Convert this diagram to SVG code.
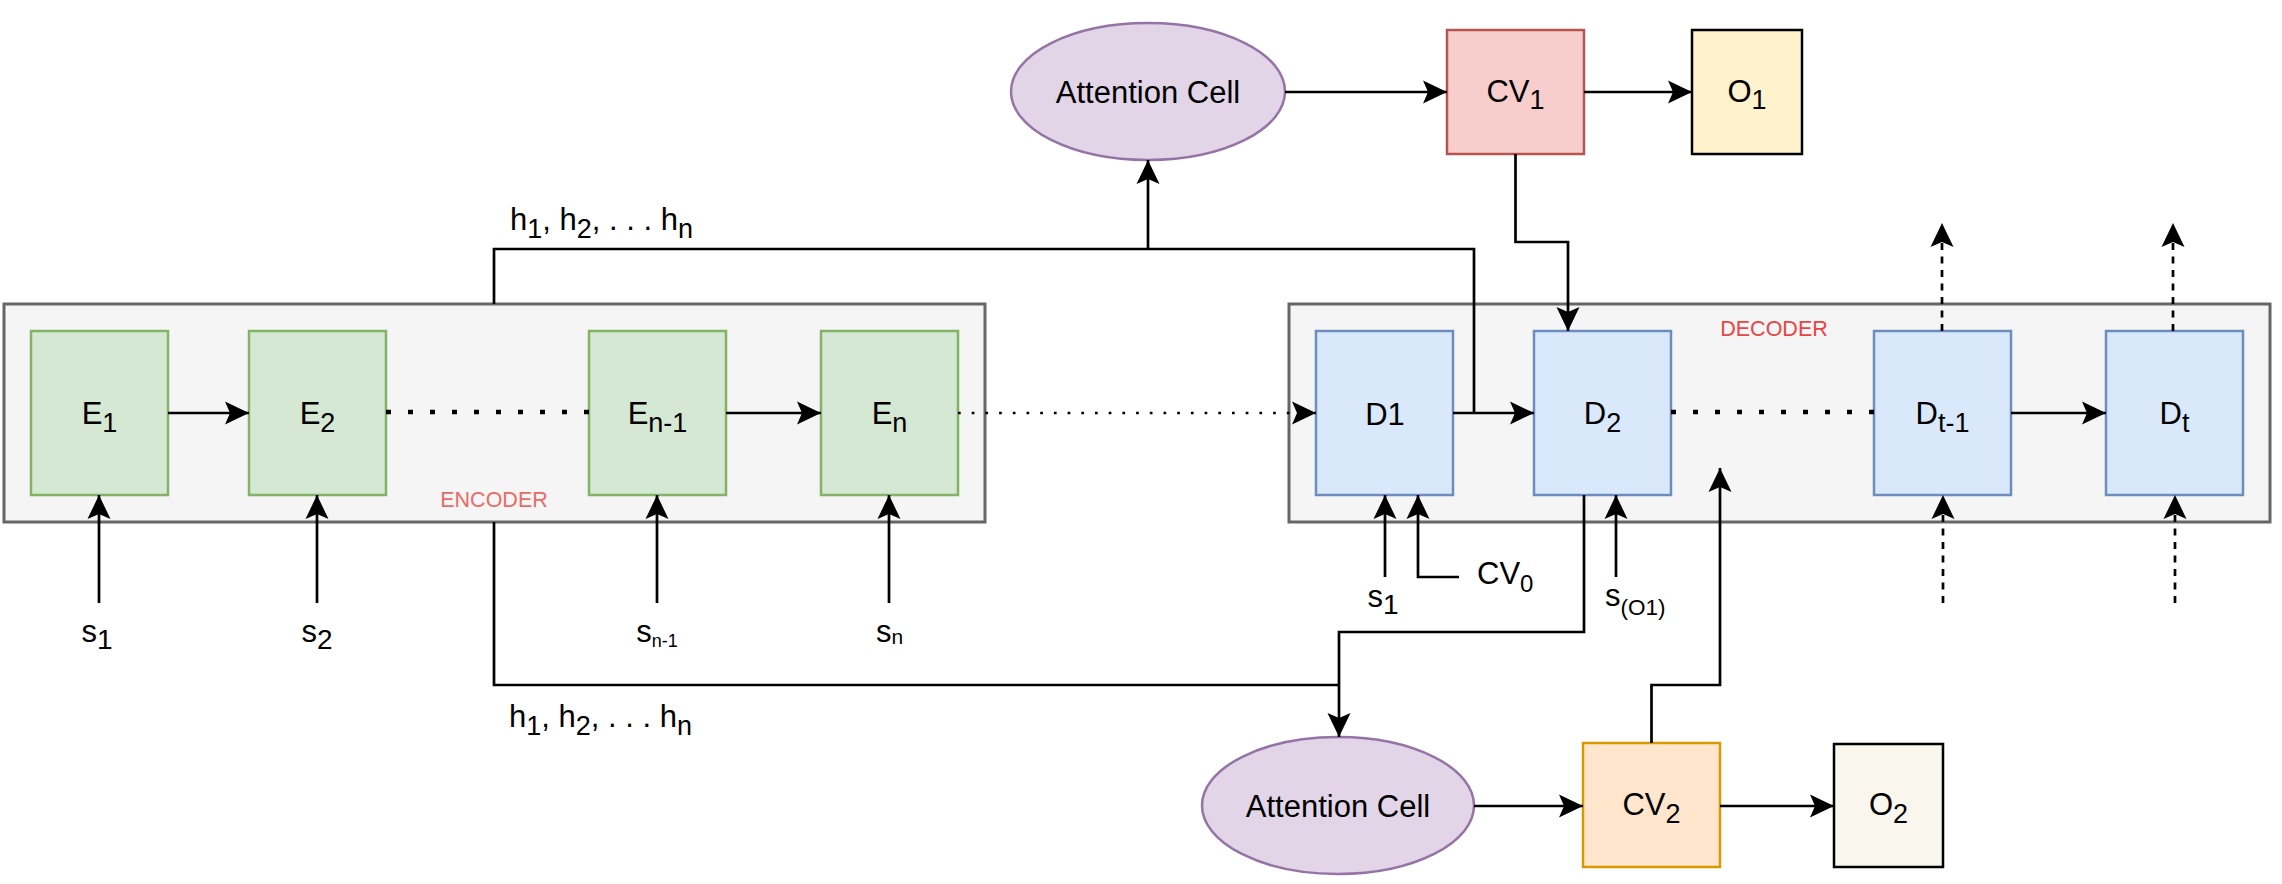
<svg xmlns="http://www.w3.org/2000/svg" width="2282" height="884" viewBox="0 0 2282 884">
<defs>
<marker id="ah" markerUnits="userSpaceOnUse" markerWidth="26" markerHeight="26" viewBox="0 -13 26 26" refX="24" refY="0" orient="auto"><path d="M24,0 L0,-11.5 L5,0 L0,11.5 Z" fill="#000"/></marker>
<style>
.cont{fill:#f5f5f5;stroke:#666666;stroke-width:3}
.enc{fill:#d5e8d4;stroke:#82b366;stroke-width:2.5}
.dec{fill:#dae8fc;stroke:#6c8ebf;stroke-width:2.5}
.att{fill:#e1d5e7;stroke:#9673a6;stroke-width:2.5}
.cv1{fill:#f8cecc;stroke:#b85450;stroke-width:2.5}
.o1{fill:#fff2cc;stroke:#000;stroke-width:2.5}
.cv2{fill:#ffe6cc;stroke:#d79b00;stroke-width:2.5}
.o2{fill:#f9f7ed;stroke:#000;stroke-width:2.5}
text{font-family:"Liberation Sans",Arial,Helvetica,sans-serif;font-size:31px;fill:#000}
.m{text-anchor:middle}
.c{fill:none;stroke:#000;stroke-width:2.7}
.arr{marker-end:url(#ah)}
.dotbig{stroke-width:4.5;stroke-dasharray:5 17}
.dotthin{stroke-dasharray:2.7 11}
.dash{stroke-dasharray:7 6.5}
</style>
</defs>
<rect width="2282" height="884" fill="#fff"/>

<g id="encoder">
<rect class="cont" x="4" y="304" width="981" height="218"/>
<text x="494" y="507" class="m" style="font-size:21.5px;fill:#EA6B66">ENCODER</text>
</g>
<g id="decoder">
<rect class="cont" x="1289" y="304" width="981" height="218"/>
<text x="1774" y="336" class="m" style="font-size:21.5px;fill:#EA4444">DECODER</text>
</g>

<g id="E1"><rect class="enc" x="31" y="331" width="137" height="164"/><text x="99.5" y="424" class="m">E<tspan dy="8" font-size="27">1</tspan></text></g>
<g id="E2"><rect class="enc" x="249" y="331" width="137" height="164"/><text x="317.5" y="424" class="m">E<tspan dy="8" font-size="27">2</tspan></text></g>
<g id="En-1"><rect class="enc" x="589" y="331" width="137" height="164"/><text x="657.5" y="424" class="m">E<tspan dy="8" font-size="27">n-1</tspan></text></g>
<g id="En"><rect class="enc" x="821" y="331" width="137" height="164"/><text x="889.5" y="424" class="m">E<tspan dy="8" font-size="27">n</tspan></text></g>

<g id="D1"><rect class="dec" x="1316" y="331" width="137" height="164"/><text x="1385" y="425" class="m">D1</text></g>
<g id="D2"><rect class="dec" x="1534" y="331" width="137" height="164"/><text x="1602.5" y="424" class="m">D<tspan dy="8" font-size="27">2</tspan></text></g>
<g id="Dt-1"><rect class="dec" x="1874" y="331" width="137" height="164"/><text x="1942.5" y="424" class="m">D<tspan dy="8" font-size="27">t-1</tspan></text></g>
<g id="Dt"><rect class="dec" x="2106" y="331" width="137" height="164"/><text x="2174.5" y="424" class="m">D<tspan dy="8" font-size="27">t</tspan></text></g>

<g id="att1"><ellipse class="att" cx="1148" cy="91.5" rx="137" ry="68.5"/><text x="1148" y="103" class="m">Attention Cell</text></g>
<g id="CV1"><rect class="cv1" x="1447" y="30" width="137" height="124"/><text x="1515.5" y="102" class="m">CV<tspan dy="7" font-size="27">1</tspan></text></g>
<g id="O1"><rect class="o1" x="1692" y="30" width="110" height="124"/><text x="1747" y="102" class="m">O<tspan dy="7" font-size="27">1</tspan></text></g>

<g id="att2"><ellipse class="att" cx="1338" cy="805.5" rx="136" ry="68.5"/><text x="1338" y="817" class="m">Attention Cell</text></g>
<g id="CV2"><rect class="cv2" x="1583" y="743" width="137" height="124"/><text x="1651.5" y="815" class="m">CV<tspan dy="8" font-size="27">2</tspan></text></g>
<g id="O2"><rect class="o2" x="1834" y="744" width="109" height="123"/><text x="1888.5" y="815" class="m">O<tspan dy="8" font-size="27">2</tspan></text></g>

<g id="labels">
<text x="97" y="642" class="m" font-size="32">s<tspan dy="7" font-size="28">1</tspan></text>
<text x="317" y="642" class="m" font-size="32">s<tspan dy="7" font-size="28">2</tspan></text>
<text x="657" y="642" class="m" font-size="32">s<tspan dy="5" font-size="18">n-1</tspan></text>
<text x="889.5" y="642" class="m" font-size="32">s<tspan dy="2" font-size="21">n</tspan></text>
<text x="1383" y="607" class="m" font-size="32">s<tspan dy="7" font-size="28">1</tspan></text>
<text x="1477" y="584" font-size="25">CV<tspan dy="8" font-size="24">0</tspan></text>
<text x="1605" y="606" font-size="32">s<tspan dy="9" font-size="22.5">(O1)</tspan></text>
<text x="510" y="230" font-size="31">h<tspan dy="8" font-size="27">1</tspan><tspan dy="-8">, h</tspan><tspan dy="8" font-size="27">2</tspan><tspan dy="-8">, . . . h</tspan><tspan dy="8" font-size="27">n</tspan></text>
<text x="509" y="727" font-size="31">h<tspan dy="8" font-size="27">1</tspan><tspan dy="-8">, h</tspan><tspan dy="8" font-size="27">2</tspan><tspan dy="-8">, . . . h</tspan><tspan dy="8" font-size="27">n</tspan></text>
</g>

<g id="connectors">
<path class="c arr" d="M168,413 H249"/>
<path class="c dotbig" d="M386,412 H589"/>
<path class="c arr" d="M726,413 H821"/>
<path class="c dotthin arr" d="M958,413 H1316"/>
<path class="c arr" d="M1453,413 H1534"/>
<path class="c dotbig" d="M1671,412 H1874"/>
<path class="c arr" d="M2011,413 H2106"/>

<path class="c arr" d="M99,603 V495"/>
<path class="c arr" d="M317,603 V495"/>
<path class="c arr" d="M657,603 V495"/>
<path class="c arr" d="M889,603 V495"/>

<path class="c arr" d="M1385,577 V495"/>
<path class="c arr" d="M1459,577 H1418 V495"/>
<path class="c arr" d="M1616,577 V495"/>

<path class="c" d="M494,304 V249 H1474 V413"/>
<path class="c arr" d="M1148,249 V160"/>
<path class="c arr" d="M1285,92 H1447"/>
<path class="c arr" d="M1584,92 H1692"/>
<path class="c arr" d="M1515.5,154 V242 H1568 V331"/>

<path class="c" d="M494,522 V685 H1339"/>
<path class="c arr" d="M1584,495 V632 H1339 V737"/>
<path class="c arr" d="M1651.5,743 V685 H1720 V468"/>
<path class="c arr" d="M1474,806 H1583"/>
<path class="c arr" d="M1720,806 H1834"/>

<path class="c dash arr" d="M1942,331 V223"/>
<path class="c dash arr" d="M2173,331 V223"/>
<path class="c dash arr" d="M1943,603 V495"/>
<path class="c dash arr" d="M2175,603 V495"/>
</g>
</svg>
